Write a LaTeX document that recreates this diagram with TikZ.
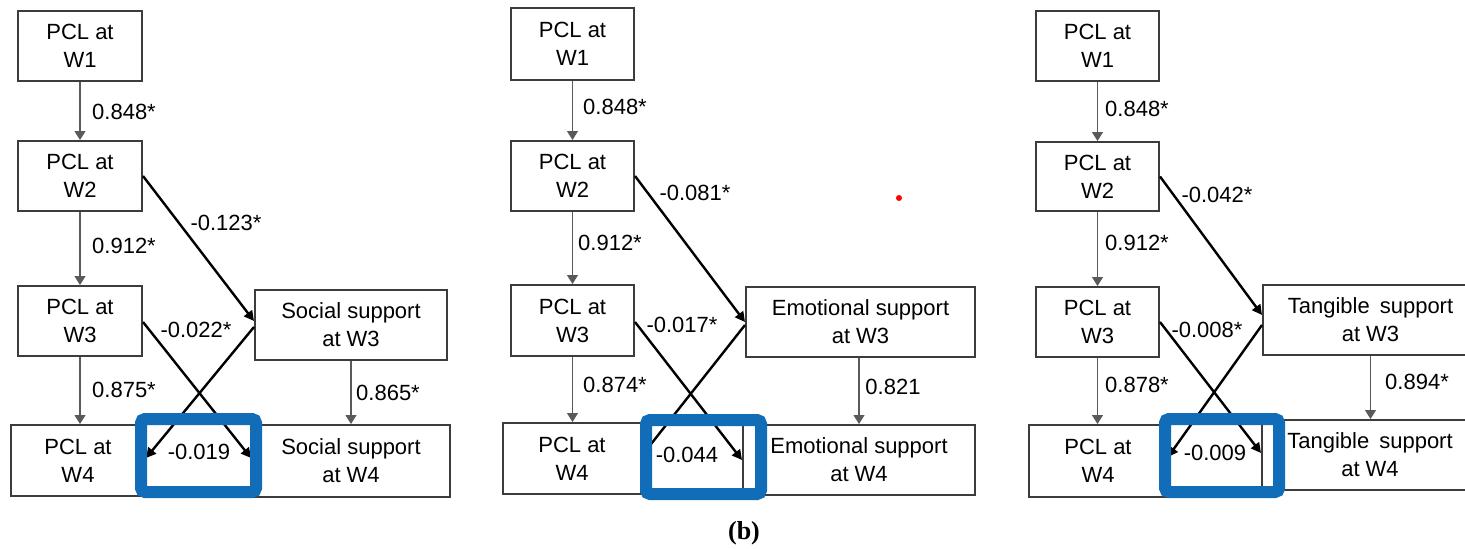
\documentclass[tikz,border=0pt]{standalone}
\usepackage{fontspec}
\setmainfont{Liberation Sans}
\newfontfamily\capfont{Liberation Serif}
\usetikzlibrary{arrows.meta,calc}
\definecolor{hlblue}{RGB}{17,109,183}
\definecolor{boxgray}{RGB}{60,60,60}
\definecolor{thingray}{RGB}{90,90,90}
\begin{document}
\begin{tikzpicture}[x=1pt,y=-1pt,
  varbox/.style={draw=boxgray, line width=2pt, align=center, inner sep=0pt,
    font=\fontsize{22}{28}\selectfont, minimum height=70pt},
  coef/.style={inner sep=0pt, font=\fontsize{22}{26}\selectfont},
  varrow/.style={draw=thingray, line width=1.2pt, -{Triangle[length=9pt,width=11pt]}},
  darrow/.style={draw=black, line width=2.4pt, -{Triangle[length=10pt,width=10pt]}},
  hlbox/.style={draw=hlblue, line width=12pt, rounded corners=4pt, inner sep=0pt}
]
\path[use as bounding box] (0,0) rectangle (1465,549);
\clip (0,0) rectangle (1465,549);

% ---------- Panel 1 ----------
\node[varbox, minimum width=124pt] (a1) at (80,45.5) {PCL at\\W1};
\node[varbox, minimum width=124pt] (a2) at (80,176) {PCL at\\W2};
\node[varbox, minimum width=124pt] (a3) at (80,321) {PCL at\\W3};
\node[varbox, minimum width=134pt, minimum height=71pt] (a4) at (78,460.5) {PCL at\\W4};
\node[varbox, minimum width=192pt] (as3) at (351,325) {Social support\\at W3};
\node[varbox, minimum width=198pt, minimum height=72pt] (as4) at (351,461) {Social support\\at W4};

\draw[varrow] (a1.south) -- (a1.south |- a2.north);
\draw[varrow] (a2.south) -- (a2.south |- a3.north);
\draw[varrow] (a3.south) -- (a3.south |- a4.north);
\draw[varrow] (as3.south) -- (as3.south |- as4.north);
\draw[darrow] (a2.east) -- ($(as3.west)+(0,-4)$);
\draw[darrow] ($(a3.east)+(0,1)$) -- ($(as4.west)+(0,-3)$);
\draw[darrow] ($(as3.west)+(0,2)$) -- ($(a4.east)+(0,-2.5)$);

\node[coef] (a12) at (124,112) {0.848*};
\node[coef] (a23) at (124,246) {0.912*};
\node[coef] (a2s) at (226,223) {-0.123*};
\node[coef] (a3x) at (196,330) {-0.022*};
\node[coef] (a34) at (124,390) {0.875*};
\node[coef] (as34) at (388,393) {0.865*};
\node[coef] (ax4) at (199,452) {-0.019};

\node[hlbox, minimum width=115pt, minimum height=73pt] (hl1) at (198.5,455.5) {};

% ---------- Panel 2 ----------
\node[varbox, minimum width=123pt, minimum height=72pt] (b1) at (572.5,44) {PCL at\\W1};
\node[varbox, minimum width=123pt] (b2) at (572.5,176) {PCL at\\W2};
\node[varbox, minimum width=123pt, minimum height=71pt] (b3) at (572.5,320.5) {PCL at\\W3};
\node[varbox, minimum width=138pt, minimum height=71pt] (b4) at (572,458.5) {PCL at\\W4};
\node[varbox, minimum width=229pt] (bs3) at (860.5,322) {Emotional support\\at W3};
\node[varbox, minimum width=232pt] (bs4) at (859,460) {Emotional support\\at W4};

\draw[varrow] (b1.south) -- (b1.south |- b2.north);
\draw[varrow] (b2.south) -- (b2.south |- b3.north);
\draw[varrow] (b3.south) -- (b3.south |- b4.north);
\draw[varrow] (bs4.north |- bs3.south) -- (bs4.north);
\draw[darrow] (b2.east) -- (bs3.west);
\draw[darrow] ($(b3.east)+(0,1.5)$) -- ($(bs4.west)+(0,0)$);
\draw[darrow] ($(bs3.west)+(0,3)$) -- ($(b4.east)+(0,-3)$);

\node[coef] (b12) at (615,107) {0.848*};
\node[coef] (b23) at (610,243) {0.912*};
\node[coef] (b2s) at (695,193) {-0.081*};
\node[coef] (b3x) at (682,325) {-0.017*};
\node[coef] (b34) at (615,385) {0.874*};
\node[coef] (bs34) at (893,387) {0.821};
\node[coef] (bx4) at (687,455) {-0.044};

\node[hlbox, minimum width=115pt, minimum height=74pt] (hl2) at (703.5,457) {};
\fill[red] (899,198) circle (3pt);

% ---------- Panel 3 ----------
\node[varbox, minimum width=123pt] (c1) at (1097.5,46) {PCL at\\W1};
\node[varbox, minimum width=123pt, minimum height=69pt] (c2) at (1097.5,176.5) {PCL at\\W2};
\node[varbox, minimum width=123pt] (c3) at (1097.5,322) {PCL at\\W3};
\node[varbox, minimum width=138pt, minimum height=72pt] (c4) at (1098,461) {PCL at\\W4};
\node[varbox, minimum width=215pt] (cs3) at (1370.5,320) {Tangible\hspace{4pt} support\\at W3};
\node[varbox, minimum width=216pt] (cs4) at (1370,455) {Tangible\hspace{4pt} support\\at W4};

\draw[varrow] (c1.south) -- (c1.south |- c2.north);
\draw[varrow] (c2.south) -- (c2.south |- c3.north);
\draw[varrow] (c3.south) -- (c3.south |- c4.north);
\draw[varrow] (cs3.south) -- (cs3.south |- cs4.north);
\draw[darrow] (c2.east) -- ($(cs3.west)+(0,-5)$);
\draw[darrow] (c3.east) -- ($(cs4.west)+(0,-2)$);
\draw[darrow] ($(cs3.west)+(0,5)$) -- ($(c4.east)+(0,-4)$);

\node[coef] (c12) at (1137,109) {0.848*};
\node[coef] (c23) at (1137,243) {0.912*};
\node[coef] (c2s) at (1217,195) {-0.042*};
\node[coef] (c3x) at (1207,330) {-0.008*};
\node[coef] (c34) at (1137,385) {0.878*};
\node[coef] (cs34) at (1417,382) {0.894*};
\node[coef] (cx4) at (1215,453) {-0.009};

\node[hlbox, minimum width=114pt, minimum height=73pt] (hl3) at (1222,455.5) {};

% ---------- caption ----------
\node[inner sep=0pt, font=\capfont\bfseries\fontsize{26}{28}\selectfont] (cap) at (744,533) {(b)};
\end{tikzpicture}
\end{document}
